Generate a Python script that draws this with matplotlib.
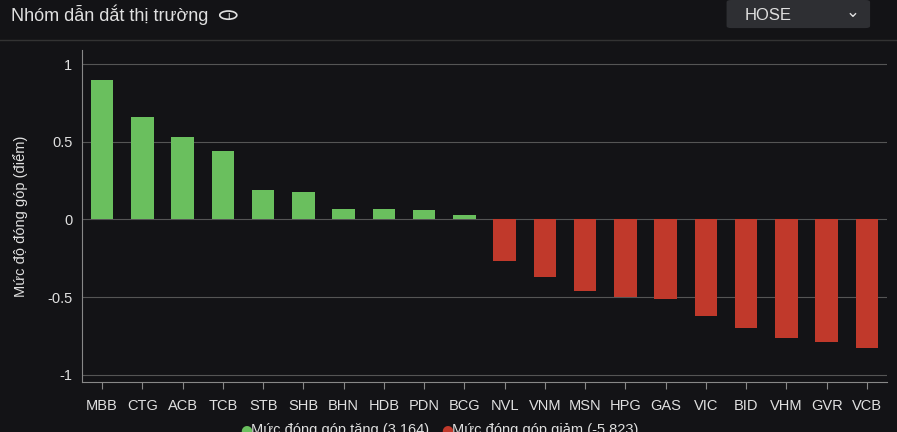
import matplotlib
matplotlib.use("Agg")
import matplotlib.pyplot as plt
from matplotlib.patches import FancyBboxPatch, Circle

plt.rcParams["font.family"] = ["Liberation Sans", "DejaVu Sans"]

tickers = ["MBB", "CTG", "ACB", "TCB", "STB", "SHB", "BHN", "HDB", "PDN", "BCG",
           "NVL", "VNM", "MSN", "HPG", "GAS", "VIC", "BID", "VHM", "GVR", "VCB"]
values = [0.90, 0.66, 0.53, 0.44, 0.19, 0.18, 0.07, 0.065, 0.06, 0.03,
          -0.27, -0.37, -0.46, -0.50, -0.51, -0.62, -0.70, -0.76, -0.79, -0.83]
y_ticks = [1, 0.5, 0, -0.5, -1]
y_labels = ["1", "0.5", "0", "-0.5", "-1"]

BG = "#131316"
GREEN = "#6abf5e"
RED = "#c0392b"
TEXT = "#e0e0e0"

fig = plt.figure(figsize=(8.97, 4.32), dpi=100, facecolor=BG)
ax = fig.add_axes([0.0914, 0.116, 0.8975, 0.768], facecolor=BG)

colors = [GREEN if v >= 0 else RED for v in values]
x = range(len(tickers))
ax.bar(x, values, width=0.56, color=colors, zorder=3)

ax.set_xlim(-0.5, len(tickers) - 0.5)
ax.set_ylim(-1.045, 1.09)
ax.set_yticks(y_ticks)
ax.set_yticklabels(y_labels)
ax.set_xticks(list(x))
ax.set_xticklabels(tickers)
ax.tick_params(colors=TEXT, labelsize=10.5, length=0, pad=7)
ax.tick_params(axis="x", length=5, color="#888888")
ax.grid(axis="y", color="#555555", linewidth=0.8, zorder=0)
for s in ["top", "right"]:
    ax.spines[s].set_visible(False)
ax.spines["left"].set_color("#888888")
ax.spines["bottom"].set_color("#888888")
ax.set_ylabel("Mức độ đóng góp (điểm)", color=TEXT, fontsize=10.5, labelpad=14)

# header
fig.text(0.012, 0.965, "Nhóm dẫn dắt thị trường", color=TEXT, fontsize=13, va="center")
fig.patches.append(Circle((0.2545, 0.965), 0.0095, transform=fig.transFigure,
                          fill=False, edgecolor=TEXT, linewidth=1.2))
fig.text(0.2545, 0.963, "i", color=TEXT, fontsize=8, ha="center", va="center")
fig.add_artist(plt.Line2D([0, 1], [0.907, 0.907], transform=fig.transFigure,
                          color="#333333", linewidth=1))
fig.patches.append(FancyBboxPatch((0.81, 0.935), 0.16, 0.065, transform=fig.transFigure,
                                  boxstyle="round,pad=0,rounding_size=0.005",
                                  facecolor="#2e2f33", edgecolor="none"))
fig.text(0.83, 0.965, "HOSE", color=TEXT, fontsize=12, va="center")
fig.text(0.95, 0.972, "⌄", color=TEXT, fontsize=12, va="center", ha="center",
         family="DejaVu Sans")

# legend
fig.text(0.268, -0.012, "●", color=GREEN, fontsize=10, va="bottom", family="DejaVu Sans")
fig.text(0.28, -0.012, "Mức đóng góp tăng (3.164)", color=TEXT, fontsize=10.5, va="bottom")
fig.text(0.492, -0.012, "●", color=RED, fontsize=10, va="bottom", family="DejaVu Sans")
fig.text(0.504, -0.012, "Mức đóng góp giảm (-5.823)", color=TEXT, fontsize=10.5, va="bottom")

fig.savefig("out.png", dpi=100, facecolor=BG)
